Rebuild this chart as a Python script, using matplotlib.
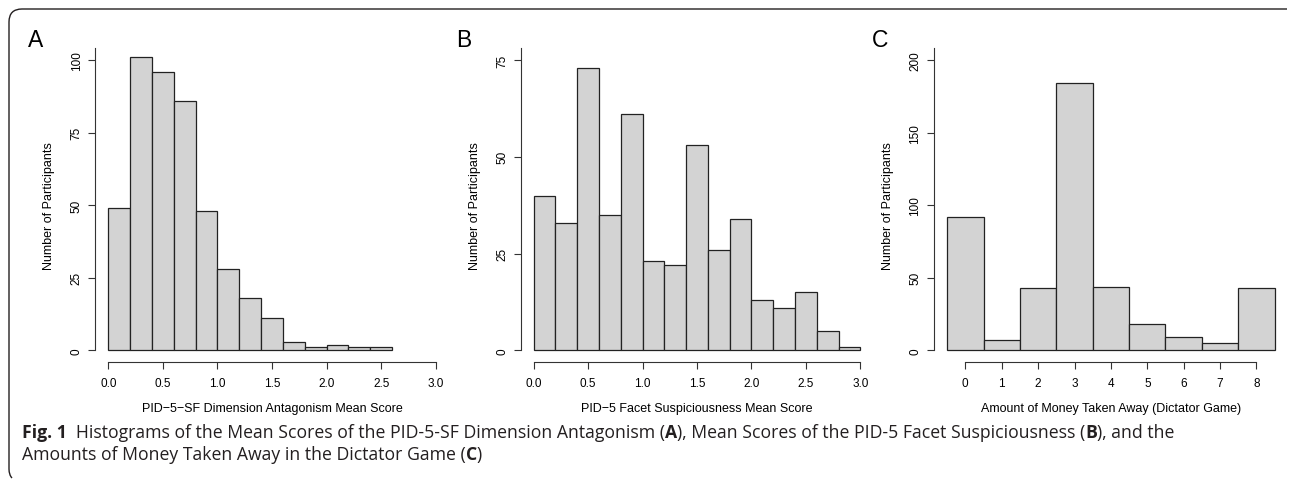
import numpy as np
import matplotlib
matplotlib.use('Agg')
import matplotlib.pyplot as plt
from matplotlib.path import Path
from matplotlib.patches import PathPatch


# histogram counts
edges_a = np.arange(0, 2.61, 0.2)
counts_a = [49, 101, 96, 86, 48, 28, 18, 11, 3, 1, 2, 1, 1]

edges_b = np.arange(0, 3.01, 0.2)
counts_b = [40, 33, 73, 35, 61, 23, 22, 53, 26, 34, 13, 11, 15, 5, 1]

edges_c = np.arange(-0.5, 8.51, 1.0)
counts_c = [92, 7, 43, 184, 44, 18, 9, 5, 43]

xticks_ab = [0.0, 0.5, 1.0, 1.5, 2.0, 2.5, 3.0]
xticks_c = list(range(9))

xlabel_a = 'PID\u22125\u2212SF Dimension Antagonism Mean Score'
xlabel_b = 'PID\u22125 Facet Suspiciousness Mean Score'
xlabel_c = 'Amount of Money Taken Away (Dictator Game)'
ylabel = 'Number of Participants'

W, H = 1290, 481
plt.rcParams['font.family'] = ['Liberation Sans', 'DejaVu Sans']

fig = plt.figure(figsize=(W / 100, H / 100), dpi=100)


def px_axes(left, right, top, bottom):
    return fig.add_axes([left / W, 1 - bottom / H, (right - left) / W, (bottom - top) / H])


def hist_panel(ax, edges, counts, xticks, ylim_top, yticks, xlabel, xticklabels):
    ax.bar(edges[:-1], counts, width=np.diff(edges), align='edge',
           color='#d3d3d3', edgecolor='#222222', linewidth=0.9)
    lo, hi = xticks[0], xticks[-1]
    if edges[0] < lo:
        lo, hi = edges[0], edges[-1]
    pad = 0.04 * (hi - lo)
    ax.set_xlim(lo - pad, hi + pad)
    ax.set_ylim(-0.04 * ylim_top, ylim_top * 1.04)
    ax.spines['top'].set_visible(False)
    ax.spines['right'].set_visible(False)
    ax.spines['left'].set_bounds(0, ylim_top * 1.04)
    ax.spines['bottom'].set_bounds(xticks[0], xticks[-1])
    for s in ('left', 'bottom'):
        ax.spines[s].set_linewidth(0.8)
        ax.spines[s].set_color('#333333')
    ax.set_xticks(xticks)
    ax.set_xticklabels(xticklabels)
    ax.set_yticks(yticks)
    ax.tick_params(axis='both', direction='out', length=5, width=0.8,
                   color='#333333', labelsize=8.5)
    ax.tick_params(axis='x', pad=6)
    ax.tick_params(axis='y', pad=4)
    for lab in ax.get_yticklabels():
        lab.set_rotation(90)
        lab.set_va('center')
    ax.set_xlabel(xlabel, fontsize=9, labelpad=9.5)
    ax.set_ylabel(ylabel, fontsize=9, labelpad=11)
    ax.set_facecolor('none')


ax_a = px_axes(95.2, 448.8, 49.4, 363)
hist_panel(ax_a, edges_a, counts_a, xticks_ab, 100, [0, 25, 50, 75, 100],
           xlabel_a, ['%.1f' % v for v in xticks_ab])

ax_b = px_axes(520.6, 873.4, 49.4, 363)
hist_panel(ax_b, edges_b, counts_b, xticks_ab, 75, [0, 25, 50, 75],
           xlabel_b, ['%.1f' % v for v in xticks_ab])

ax_c = px_axes(934, 1287.8, 49.4, 363)
hist_panel(ax_c, edges_c, counts_c, xticks_c, 200, [0, 50, 100, 150, 200],
           xlabel_c, [str(v) for v in xticks_c])

# panel letters
for letter, xp in (('A', 28), ('B', 456), ('C', 872)):
    fig.text(xp / W, 1 - 41 / H, letter, fontsize=16.5, va='center', ha='left')

# rounded frame (top and left sides only)
def fx(p):
    return p / W


def fy(p):
    return 1 - p / H


verts = [(fx(1287), fy(10)), (fx(22), fy(10)), (fx(9), fy(10)), (fx(9), fy(23)),
         (fx(9), fy(470)), (fx(9), fy(476)), (fx(12), fy(479))]
codes = [Path.MOVETO, Path.LINETO, Path.CURVE3, Path.CURVE3,
         Path.LINETO, Path.CURVE3, Path.CURVE3]
fig.add_artist(PathPatch(Path(verts, codes), fill=False, edgecolor='#231f20',
                         linewidth=1.0, transform=fig.transFigure))

# caption with bold pieces
cap_font = ['Open Sans', 'DejaVu Sans']
cap_size = 12.7
renderer = fig.canvas.get_renderer()


def rich_line(x, y, parts):
    for s, w in parts:
        t = fig.text(x, y, s, fontsize=cap_size, fontweight=w, family=cap_font,
                     color='#231f20', va='center', ha='left')
        bb = t.get_window_extent(renderer)
        x += bb.width / W


line1 = [('Fig. 1', 'bold'),
         ('\u2002Histograms of the Mean Scores of the PID-5-SF Dimension Antagonism (', 'normal'),
         ('A', 'bold'),
         ('), Mean Scores of the PID-5 Facet Suspiciousness (', 'normal'),
         ('B', 'bold'),
         ('), and the', 'normal')]
line2 = [('Amounts of Money Taken Away in the Dictator Game (', 'normal'),
         ('C', 'bold'),
         (')', 'normal')]
rich_line(22 / W, 1 - 433 / H, line1)
rich_line(22 / W, 1 - 455 / H, line2)

fig.savefig('out.png', dpi=100)
plt.close(fig)
